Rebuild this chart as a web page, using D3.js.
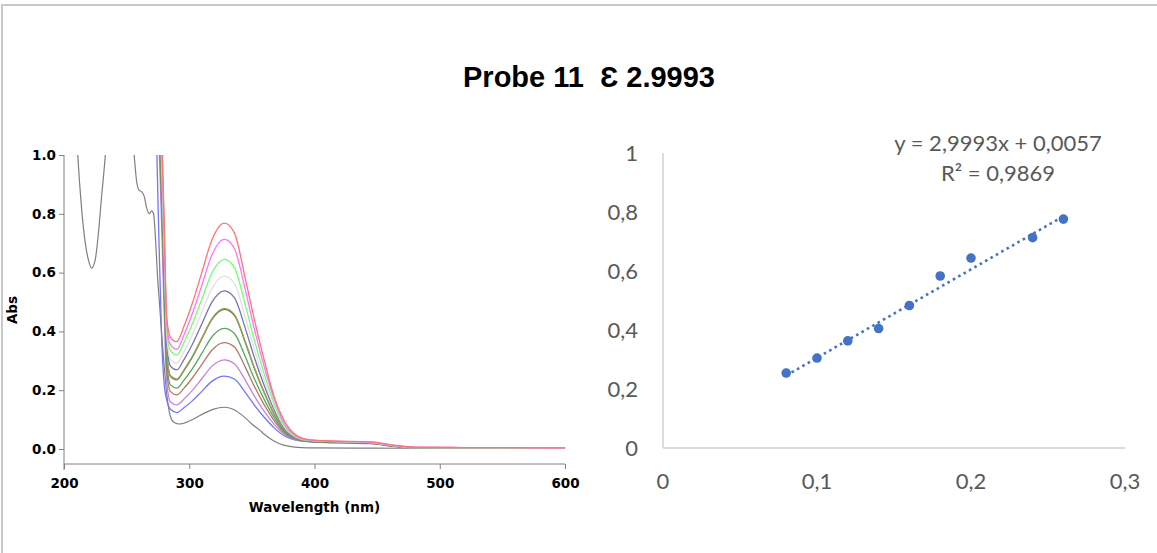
<!DOCTYPE html>
<html><head><meta charset="utf-8">
<script src="https://cdn.jsdelivr.net/npm/d3@7/dist/d3.min.js"></script>
<style>body{margin:0;background:#fff}</style>
</head><body><svg id="c" width="1157" height="553"></svg>
<script>
// ---------- data ----------
const chartTitle = "Probe 11  Ɛ 2.9993";

// left: UV-Vis spectra
const wlColored = [272,275,278,280,282,285,290,296,302,310,318,328,336,345,352,360,368,376,385,395,410,445,465,480,520,600];
const absRed     = [1.9,1.45,1.08,0.78,0.45,0.38,0.365,0.42,0.49,0.60,0.71,0.768,0.735,0.575,0.44,0.30,0.175,0.095,0.048,0.032,0.028,0.024,0.012,0.006,0.005,0.004];
const absMagenta = [1.85,1.4,1.05,0.74,0.43,0.355,0.339,0.39,0.455,0.556,0.659,0.713,0.682,0.537,0.408,0.278,0.167,0.085,0.045,0.031,0.027,0.023,0.011,0.006,0.005,0.004];
const absGreen   = [1.8,1.35,1.0,0.7,0.41,0.335,0.32,0.364,0.421,0.509,0.598,0.645,0.617,0.486,0.37,0.253,0.153,0.079,0.043,0.03,0.027,0.023,0.011,0.005,0.004,0.004];
const absLgray   = [1.78,1.32,0.97,0.67,0.39,0.305,0.292,0.332,0.384,0.464,0.545,0.588,0.563,0.444,0.339,0.232,0.142,0.074,0.041,0.029,0.026,0.022,0.01,0.005,0.004,0.003];
const absNavy    = [1.75,1.3,0.94,0.64,0.36,0.282,0.269,0.306,0.352,0.425,0.499,0.538,0.515,0.407,0.311,0.214,0.131,0.069,0.039,0.028,0.025,0.021,0.01,0.005,0.004,0.003];
const absOlive   = [1.72,1.27,0.9,0.6,0.33,0.25,0.238,0.271,0.312,0.377,0.443,0.478,0.458,0.362,0.277,0.192,0.119,0.064,0.037,0.027,0.025,0.02,0.009,0.005,0.004,0.003];
const absTeal    = [1.71,1.26,0.89,0.59,0.325,0.247,0.235,0.268,0.309,0.374,0.44,0.475,0.455,0.359,0.274,0.19,0.117,0.063,0.036,0.026,0.024,0.02,0.009,0.005,0.004,0.003];
const absDkgreen = [1.7,1.24,0.86,0.56,0.3,0.218,0.207,0.235,0.27,0.325,0.381,0.41,0.393,0.311,0.239,0.167,0.105,0.058,0.035,0.027,0.024,0.02,0.009,0.005,0.004,0.003];
const absBrown   = [1.68,1.2,0.82,0.52,0.27,0.195,0.184,0.208,0.239,0.287,0.336,0.362,0.347,0.276,0.213,0.149,0.095,0.054,0.034,0.026,0.024,0.019,0.009,0.005,0.004,0.003];
const absPurple  = [1.65,1.15,0.76,0.46,0.23,0.16,0.15,0.171,0.197,0.239,0.281,0.303,0.29,0.232,0.18,0.127,0.083,0.049,0.032,0.026,0.023,0.019,0.008,0.004,0.004,0.003];
const absBlue    = [1.4,0.85,0.37,0.22,0.167,0.135,0.124,0.141,0.162,0.196,0.23,0.248,0.238,0.191,0.149,0.107,0.071,0.044,0.03,0.025,0.022,0.018,0.008,0.004,0.003,0.003];

const wlGray  = [207,211,214,217,219.5,222,225,227.5,230,233,236,245,254,256,258,260,262,264,266,268,270,271.5,273,274.5,276.5,278.5,280.5,282.5,285,288,292,300,306,312,319,328,335,340,345,350,356,360,365,372,380,390,400,450,500,600];
const absGray = [1.4,1.0,0.82,0.70,0.643,0.615,0.645,0.735,0.858,1.0,1.2,2.0,1.1,1.0,0.91,0.88,0.875,0.86,0.82,0.80,0.81,0.80,0.72,0.60,0.48,0.36,0.257,0.17,0.11,0.09,0.085,0.095,0.108,0.122,0.135,0.142,0.135,0.122,0.105,0.085,0.065,0.05,0.034,0.018,0.009,0.005,0.004,0.003,0.002,0.002];

const coloredSeries = [absBlue, absPurple, absBrown, absDkgreen, absTeal, absOlive, absNavy, absLgray, absGreen, absMagenta, absRed];
const coloredColors = ["#7474ff","#c486d4","#b47868","#58a858","#3f7f68","#aaa050","#7474b8","#e0e0e0","#74ff74","#ff74ff","#ff7474"];

const absTicks = [0,0.2,0.4,0.6,0.8,1.0];
const wlTicks = [200,300,400,500,600];
const xLabelLeft = "Wavelength (nm)";
const yLabelLeft = "Abs";

// right: calibration
const concX = [0.08,0.10,0.12,0.14,0.16,0.18,0.20,0.24,0.26];
const absY  = [0.254,0.305,0.363,0.405,0.483,0.583,0.644,0.713,0.776];
const slope = 2.9993, intercept = 0.0057;
const eqLabel = "y = 2,9993x + 0,0057";
const r2Label = "R² = 0,9869";
const rxTicks = [0,0.1,0.2,0.3], rxLabels = ["0","0,1","0,2","0,3"];
const ryTicks = [0,0.2,0.4,0.6,0.8,1], ryLabels = ["0","0,2","0,4","0,6","0,8","1"];

// ---------- drawing ----------
const svg = d3.select("#c");
svg.append("rect").attr("width",1157).attr("height",553).attr("fill","#fff");
// frame
svg.append("path").attr("d","M2,560V5H1160").attr("fill","none").attr("stroke","#c9c9c9").attr("stroke-width",2);

svg.append("text").attr("x",589).attr("y",87).attr("text-anchor","middle")
  .style("white-space","pre").attr("xml:space","preserve")
  .attr("font-family","'Liberation Sans',Arial,sans-serif").attr("font-weight","bold").attr("font-size",29)
  .attr("fill","#000").text(chartTitle);

// left chart
const xL = d3.scaleLinear().domain([200,600]).range([64,565]);
const yL = d3.scaleLinear().domain([0,1]).range([449,155]);
const gL = svg.append("g");
const lf = "'DejaVu Sans',sans-serif";

svg.append("defs").append("clipPath").attr("id","clipL").append("rect")
  .attr("x",xL(200)).attr("y",yL(1)).attr("width",xL(600)-xL(200)).attr("height",470-yL(1));

const lineL = d3.line().x(d=>xL(d[0])).y(d=>yL(d[1])).curve(d3.curveMonotoneX);
const plot = gL.append("g").attr("clip-path","url(#clipL)");
plot.append("path").attr("d",lineL(wlGray.map((w,i)=>[w,absGray[i]])))
  .attr("fill","none").attr("stroke","#7f7f7f").attr("stroke-width",1.2);
coloredSeries.forEach((s,k)=>{
  plot.append("path").attr("d",lineL(wlColored.map((w,i)=>[w,s[i]])))
    .attr("fill","none").attr("stroke",coloredColors[k]).attr("stroke-width",1.3);
});

// axes
const axY = gL.append("g").attr("transform",`translate(${xL(200)},0)`)
  .call(d3.axisLeft(yL).tickValues(absTicks).tickFormat(d3.format(".1f")).tickSize(5).tickPadding(3));
axY.select(".domain").remove();
axY.append("line").attr("x1",0).attr("x2",0).attr("y1",yL(1)).attr("y2",470).attr("stroke","#808080");
const xAxisY = 464;
const axX = gL.append("g").attr("transform",`translate(0,${xAxisY})`)
  .call(d3.axisBottom(xL).tickValues(wlTicks).tickFormat(d3.format("d")).tickSize(5).tickPadding(9));
axX.select(".domain").remove();
axX.append("line").attr("x1",xL(200)).attr("x2",xL(600)).attr("y1",0).attr("y2",0).attr("stroke","#808080");
[axX,axY].forEach(a=>{
  a.selectAll(".tick line").attr("stroke","#808080");
  a.selectAll("text").attr("font-family",lf).attr("font-weight","bold").attr("font-size",13.5).attr("fill","#000");
});
gL.append("text").attr("x",(xL(200)+xL(600))/2).attr("y",512).attr("text-anchor","middle")
  .attr("font-family",lf).attr("font-weight","bold").attr("font-size",13.5).text(xLabelLeft);
gL.append("text").attr("transform","translate(17,310) rotate(-90)").attr("text-anchor","middle")
  .attr("font-family",lf).attr("font-weight","bold").attr("font-size",13.5).text(yLabelLeft);

// right chart
const xR = d3.scaleLinear().domain([0,0.3]).range([663,1125]);
const yR = d3.scaleLinear().domain([0,1]).range([448,153]);
const gR = svg.append("g");
const rf = "Lato,'Open Sans',sans-serif";
gR.append("line").attr("x1",xR(0)).attr("x2",xR(0)).attr("y1",yR(1)).attr("y2",yR(0)).attr("stroke","#d0d0d0").attr("stroke-width",1.5);
gR.append("line").attr("x1",xR(0)).attr("x2",xR(0.3)).attr("y1",yR(0)).attr("y2",yR(0)).attr("stroke","#d0d0d0").attr("stroke-width",1.5);
gR.selectAll(".ry").data(ryTicks).join("text").attr("x",638).attr("y",d=>yR(d)).attr("dy","0.35em")
  .attr("text-anchor","end").attr("font-family",rf).attr("font-size",22).attr("fill","#595959")
  .text((d,i)=>ryLabels[i]);
gR.selectAll(".rx").data(rxTicks).join("text").attr("x",d=>xR(d)).attr("y",489)
  .attr("text-anchor","middle").attr("font-family",rf).attr("font-size",22).attr("fill","#595959")
  .text((d,i)=>rxLabels[i]);

const x0 = d3.min(concX), x1 = d3.max(concX);
gR.append("line").attr("x1",xR(x0)).attr("y1",yR(slope*x0+intercept))
  .attr("x2",xR(x1)).attr("y2",yR(slope*x1+intercept))
  .attr("stroke","#4472c4").attr("stroke-width",2.6).attr("stroke-dasharray","2.6,3.6");
gR.selectAll("circle").data(concX).join("circle").attr("cx",d=>xR(d)).attr("cy",(d,i)=>yR(absY[i]))
  .attr("r",4.8).attr("fill","#4472c4");

gR.append("text").attr("x",998).attr("y",151).attr("text-anchor","middle").attr("font-family",rf)
  .attr("font-size",22).attr("fill","#595959").text(eqLabel);
gR.append("text").attr("x",998).attr("y",181).attr("text-anchor","middle").attr("font-family",rf)
  .attr("font-size",22).attr("fill","#595959").text(r2Label);
</script></body></html>
